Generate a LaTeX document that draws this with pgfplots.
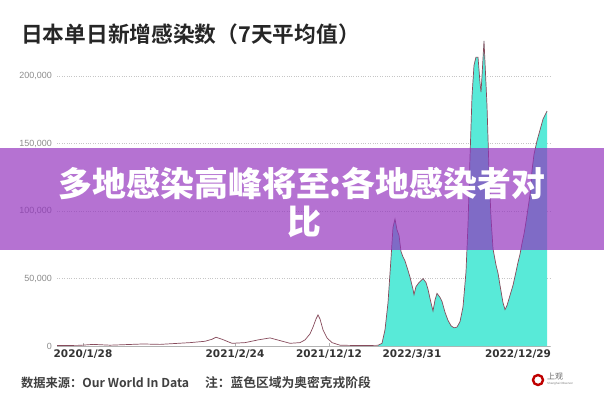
\documentclass[border=0pt]{standalone}
\usepackage{pgfplots}
\pgfplotsset{compat=1.18}
\usepackage{pgfplotstable}
\usepackage{fontspec}
\setmainfont{Liberation Sans}
\newfontfamily\cjk{Noto Sans CJK SC}[BoldFont={Noto Sans CJK SC Bold}]
\newfontfamily\cjkblack{Noto Sans CJK SC Black}
\newfontfamily\dejab{DejaVu Sans}
\definecolor{linec}{RGB}{135,75,92}
\definecolor{cyanf}{RGB}{88,234,216}
\definecolor{banner}{RGB}{146,48,190}
\definecolor{ticklab}{RGB}{140,140,140}

\pgfplotstableread{
x y
57 300
80 500
93 1200
110 600
143 1500
160 1200
190 2500
205 3500
212 5000
216 6500
222 5000
232 2000
245 2500
258 4500
270 6000
280 4000
290 2000
300 2500
305 4500
310 9000
313 14000
316 20000
318 23000
320 20000
323 12000
327 6000
332 2500
340 600
360 300
378 500
382 2000
385 12000
388 32000
391 65000
393 88000
395 94000
397 86000
399 82000
401 70000
403 66000
405 63000
408 56000
410 51000
413 42000
414 38000
416 44000
419 47000
423 50000
426 47000
428 42000
431 32000
433 26000
435 34000
437 39000
440 36000
442 33000
445 25000
448 19000
451 15000
454 13500
457 14000
460 18000
463 29000
466 55000
468 90000
470 140000
472 185000
474 208000
476 214000
478 214000
480 195000
481 188000
482 200000
484 226000
485 210000
487 178000
489 130000
491 95000
493 72000
496 60000
498 54000
500 45000
503 32000
505 27000
507 30000
509 35000
511 40000
513 45000
516 55000
518 62000
520 68000
522 76000
524 83000
526 92000
528 102000
530 112000
532 130000
534 142000
537 152000
540 160000
543 168000
545 171000
547 174000
}\datatab

\begin{document}
\begin{tikzpicture}
\fill[white] (0,0) rectangle (604bp,-400bp);
\begin{axis}[
  at={(57bp,-346bp)}, anchor=south west,
  scale only axis, width=493bp, height=310.5bp,
  xmin=57, xmax=550, ymin=0, ymax=230000,
  axis x line*=bottom, axis y line*=left,
  y axis line style={draw=none},
  x axis line style={draw=gray!60, line width=0.6bp},
  scaled y ticks=false, scaled x ticks=false,
  ytick={0,50000,100000,150000,200000},
  yticklabels={0,{50,000},{100,000},{150,000},{200,000}},
  xtick={83,235,329,412,518},
  xticklabels={2020/1/28,2021/2/24,2021/12/12,2022/3/31,2022/12/29},
  major tick length=3bp,
  xtick style={draw=gray!60},
  ytick style={draw=none},
  yticklabel style={font=\fontsize{9}{10}\selectfont, text=ticklab, inner sep=0pt, xshift=-5bp},
  xticklabel style={font=\dejab\bfseries\fontsize{10.5}{12}\selectfont, text=black!80, inner sep=0pt, yshift=-4bp},
  ymajorgrids,
  major grid style={draw=gray!45, dotted, line width=0.6bp},
]
\addplot[fill=cyanf, draw=none, restrict x to domain=377:560] table[x=x,y=y]{\datatab} \closedcycle;
\addplot[linec, line width=0.7bp] table[x=x,y=y]{\datatab};
\end{axis}
\node[anchor=west, inner sep=0pt, font=\cjk\bfseries\fontsize{21.8}{24}\selectfont, text=black!85] at (21bp,-34bp) {日本单日新增感染数（7天平均值）};
\fill[banner, opacity=0.68] (0,-148bp) rectangle (604bp,-250bp);
\node[inner sep=0pt, font=\cjkblack\fontsize{34}{36}\selectfont, text=white] at (302bp,-183bp) {多地感染高峰将至:各地感染者对};
\node[inner sep=0pt, font=\cjkblack\fontsize{34}{36}\selectfont, text=white] at (304bp,-222bp) {比};
\node[anchor=west, inner sep=0pt, font=\cjk\bfseries\fontsize{12.3}{14}\selectfont, text=black!75] at (21bp,-383bp) {数据来源：Our World In Data};
\node[anchor=west, inner sep=0pt, font=\cjk\bfseries\fontsize{12.8}{14}\selectfont, text=black!75] at (205bp,-383bp) {注：蓝色区域为奥密克戎阶段};
\draw[red!75!black, line width=2.4bp] (538bp,-380bp) circle (5bp);
\node[anchor=west, inner sep=0pt, font=\cjk\fontsize{8}{9}\selectfont, text=black!60] at (547bp,-377bp) {上观};
\node[anchor=west, inner sep=0pt, font=\fontsize{3}{3}\selectfont, text=black!50] at (547bp,-384bp) {Shanghai Observer};
\pgfresetboundingbox
\path[use as bounding box] (0,0) rectangle (604bp,-400bp);
\end{tikzpicture}
\end{document}
